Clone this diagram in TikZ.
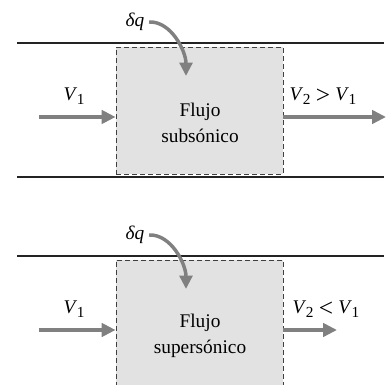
\documentclass[tikz,border=0pt]{standalone}
\usepackage{fontspec}
\setmainfont{Liberation Serif}
\definecolor{boxGray}{RGB}{226,226,226}
\definecolor{arrGray}{RGB}{128,128,128}
\definecolor{wallGray}{RGB}{35,35,35}
\usetikzlibrary{arrows.meta,positioning}
\newcommand{\vel}[1]{\textit{V}\kern-0.3pt\raisebox{-0.45ex}{\fontsize{11.5}{11.5}\selectfont #1}}
\newcommand{\rel}[1]{\hspace{4pt}\raisebox{-2.2pt}{\fontsize{19}{19}\selectfont #1}\hspace{4pt}}

\begin{document}
\begin{tikzpicture}[x=0.75pt,y=0.75pt,font=\fontsize{14.5}{19}\selectfont,
  wall/.style={wallGray,line width=2.2pt},
  cv/.style={draw=black!75,dashed,dash pattern=on 3.5pt off 2.5pt,fill=boxGray,line width=0.6pt,minimum width=125.25pt,minimum height=95.25pt,inner sep=0pt},
  flow/.style={arrGray,line width=3pt,-{Triangle[length=10.5pt,width=10pt]}},
  heat/.style={arrGray,line width=2.6pt,-{Triangle[length=10pt,width=9.5pt]}}]
\useasboundingbox (0,0) rectangle (389,385);
\clip (0,0) rectangle (389,385);
% Panel 1: subsonic
\begin{scope}
  \draw[wall] (17,342) -- (384,342);
  \draw[wall] (17,208) -- (384,208);
  \node[cv] (box1) at (199.5,274.5) {};
  \node[align=center] (txt1) at (200,262) {Flujo\\subsónico};
  \coordinate (in1) at (39,268);
  \coordinate (out1) at (386,268);
  \draw[flow] (in1) -- (in1 -| box1.west);
  \draw[flow] (out1 -| box1.east) -- (out1);
  \node (v1a) at (74,289) {\vel{1}};
  \node (v2a) at (323,289) {\vel{2}\rel{>}\vel{1}};
  \node (dq1) at (135,363) {\textit{δq}};
  \coordinate (hq1) at (186,309);
  \draw[heat] (dq1.east) .. controls +(22,1) and +(0,25) .. (hq1);
\end{scope}
% Panel 2: supersonic
\begin{scope}[yshift=-213*0.75pt]
  \draw[wall] (17,342) -- (384,342);
  \node[cv,minimum height=120pt] (box2) at (199.5,258) {};
  \node[align=center] (txt2) at (200,262) {Flujo\\supersónico};
  \coordinate (in2) at (39,268);
  \coordinate (out2) at (337,268);
  \draw[flow] (in2) -- (in2 -| box2.west);
  \draw[flow] (out2 -| box2.east) -- (out2);
  \node (v1b) at (74,289) {\vel{1}};
  \node (v2b) at (326,289) {\vel{2}\rel{<}\vel{1}};
  \node (dq2) at (135,363) {\textit{δq}};
  \coordinate (hq2) at (186,309);
  \draw[heat] (dq2.east) .. controls +(22,1) and +(0,25) .. (hq2);
\end{scope}
\end{tikzpicture}
\end{document}
